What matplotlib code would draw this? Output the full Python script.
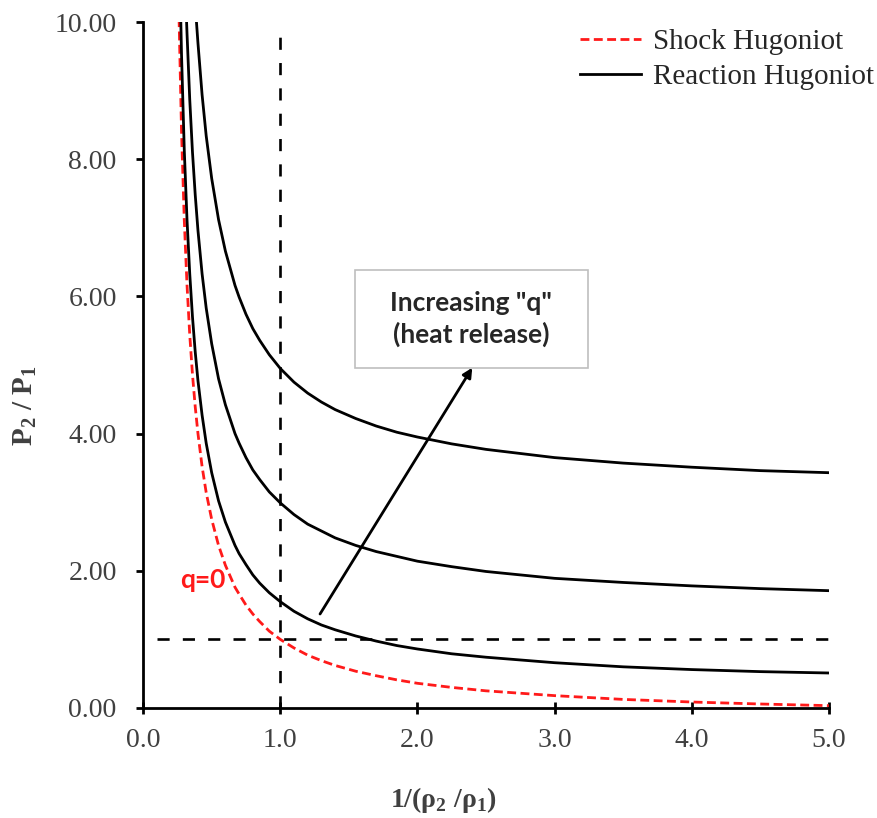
import matplotlib
matplotlib.use('Agg')
import matplotlib.pyplot as plt
from matplotlib.patches import Rectangle
from matplotlib.ticker import FormatStrFormatter

plt.rcParams['mathtext.fontset'] = 'custom'
plt.rcParams['mathtext.rm'] = 'Liberation Serif'
plt.rcParams['mathtext.bf'] = 'Liberation Serif:bold'

# ---- Values ----
shock_v = [0.26, 0.28, 0.30, 0.32, 0.34, 0.36, 0.38, 0.40, 0.43, 0.46, 0.50, 0.55, 0.60, 0.67,
           0.70, 0.75, 0.80, 0.85, 0.92, 1.0, 1.1, 1.2, 1.3, 1.4, 1.55, 1.7, 1.85, 2.0, 2.25,
           2.5, 3.0, 3.5, 4.0, 4.5, 5.0]
shock_p = [10.25, 8.41, 7.12, 6.17, 5.44, 4.86, 4.39, 4.0, 3.52, 3.14, 2.75, 2.37, 2.08, 1.76,
           1.66, 1.50, 1.37, 1.26, 1.12, 1.0, 0.875, 0.77, 0.69, 0.62, 0.536, 0.47, 0.41, 0.36, 0.30,
           0.25, 0.18, 0.125, 0.087, 0.058, 0.034]

low_v = [0.275, 0.28, 0.30, 0.32, 0.34, 0.36, 0.38, 0.40, 0.43, 0.46, 0.50, 0.55, 0.60, 0.67,
         0.70, 0.75, 0.80, 0.85, 0.92, 1.0, 1.1, 1.2, 1.3, 1.4, 1.55, 1.7, 1.85, 2.0, 2.25,
         2.5, 3.0, 3.5, 4.0, 4.5, 5.0]
low_p = [10.0, 9.53, 8.14, 7.12, 6.33, 5.70, 5.19, 4.77, 4.27, 3.86, 3.43, 3.02, 2.71, 2.37,
         2.25, 2.09, 1.94, 1.82, 1.68, 1.55, 1.41, 1.30, 1.21, 1.14, 1.05, 0.975, 0.91, 0.86, 0.79,
         0.74, 0.66, 0.60, 0.56, 0.53, 0.51]

mid_v = [0.317, 0.32, 0.34, 0.36, 0.38, 0.40, 0.43, 0.46, 0.50, 0.55, 0.60, 0.67, 0.70, 0.75,
         0.80, 0.85, 0.92, 1.0, 1.1, 1.2, 1.3, 1.4, 1.55, 1.7, 1.85, 2.0, 2.25, 2.5, 3.0, 3.5,
         4.0, 4.5, 5.0]
mid_p = [10.0, 9.84, 8.87, 8.10, 7.48, 6.96, 6.33, 5.83, 5.31, 4.80, 4.42, 4.00, 3.86, 3.65,
         3.47, 3.33, 3.15, 2.99, 2.82, 2.68, 2.58, 2.48, 2.37, 2.28, 2.21, 2.14, 2.06, 1.99, 1.89, 1.83,
         1.78, 1.74, 1.71]

high_v = [0.389, 0.40, 0.43, 0.46, 0.50, 0.55, 0.60, 0.67, 0.70, 0.75, 0.80, 0.85, 0.92, 1.0,
          1.1, 1.2, 1.3, 1.4, 1.55, 1.7, 1.85, 2.0, 2.25, 2.5, 3.0, 3.5, 4.0, 4.5, 5.0]
high_p = [10.0, 9.69, 8.94, 8.34, 7.72, 7.12, 6.66, 6.16, 5.99, 5.74, 5.53, 5.36, 5.15, 4.95,
          4.75, 4.59, 4.46, 4.35, 4.22, 4.11, 4.02, 3.95, 3.85, 3.77, 3.65, 3.57, 3.51, 3.46, 3.43]

x_ticks = [0, 1, 2, 3, 4, 5]
y_ticks = [0, 2, 4, 6, 8, 10]

serif = ['Liberation Serif', 'DejaVu Serif']
sans = ['Lato', 'DejaVu Sans']
red = '#ff1a1a'

# ---- Figure ----
fig = plt.figure(figsize=(8.78, 8.18), dpi=100)
ax = fig.add_axes([0.163, 0.1345, 0.781, 0.8386])

ax.plot(shock_v, shock_p, color=red, lw=2.0, dashes=(3.2, 1.6), label='Shock Hugoniot')
ax.plot(low_v, low_p, color='black', lw=2.0, label='Reaction Hugoniot')
ax.plot(mid_v, mid_p, color='black', lw=2.0)
ax.plot(high_v, high_p, color='black', lw=2.0)

# reference lines at v = 1 and p = 1
ax.plot([1, 1], [0, 9.8], color='black', lw=1.9, dashes=(4.6, 5.0))
ax.plot([0.1, 5.0], [1, 1], color='black', lw=1.9, dashes=(4.6, 5.0))

ax.set_xlim(0, 5)
ax.set_ylim(0, 10)
ax.set_xticks(x_ticks)
ax.set_yticks(y_ticks)
ax.xaxis.set_major_formatter(FormatStrFormatter('%.1f'))
ax.yaxis.set_major_formatter(FormatStrFormatter('%.2f'))

for side in ['top', 'right']:
    ax.spines[side].set_visible(False)
for side in ['left', 'bottom']:
    ax.spines[side].set_linewidth(2.0)

ax.tick_params(axis='x', direction='inout', length=9, width=2.0, pad=10)
ax.tick_params(axis='y', direction='out', length=5, width=2.0, pad=14)
for lab in ax.get_xticklabels() + ax.get_yticklabels():
    lab.set_fontfamily(serif)
    lab.set_fontsize(20)
    lab.set_color('#404040')

fig.text(443 / 878, 1 - 800 / 818, r'1/(ρ$_\mathbf{2}$ /ρ$_\mathbf{1}$)', ha='center', va='center',
         fontsize=20, fontweight='bold', family=serif, color='#404040')
fig.text(25 / 878, 1 - 406 / 818, r'P$_\mathbf{2}$ / P$_\mathbf{1}$', ha='center', va='center',
         rotation=90, fontsize=21, fontweight='bold', family=serif, color='#404040')

leg = fig.legend(loc='upper left', frameon=False, prop={'family': serif, 'size': 21},
                 handlelength=2.1, handletextpad=0.4, labelspacing=0.27,
                 bbox_to_anchor=(580 / 878, 1 - 29 / 818), borderaxespad=0, borderpad=0)
for t in leg.get_texts():
    t.set_color('#262626')

# annotation box and arrow
ax.add_patch(Rectangle((1.545, 4.96), 1.698, 1.42, facecolor='white', edgecolor='#bfbfbf',
                       lw=1.2, zorder=3))
ax.text(2.394, 5.67, 'Increasing "q"\n(heat release)', ha='center', va='center',
        fontsize=19, fontweight='bold', family=sans, color='#262626', linespacing=1.3, zorder=4)
ax.annotate('', xy=(2.40, 4.96), xytext=(1.29, 1.37),
            arrowprops=dict(arrowstyle='-|>', color='black', lw=2.0, mutation_scale=14,
                            shrinkA=0, shrinkB=0), zorder=5)

ax.text(0.437, 1.87, 'q=0', ha='center', va='center', fontsize=19, fontweight='bold',
        family=sans, color=red)

fig.savefig('out.png', dpi=100)
